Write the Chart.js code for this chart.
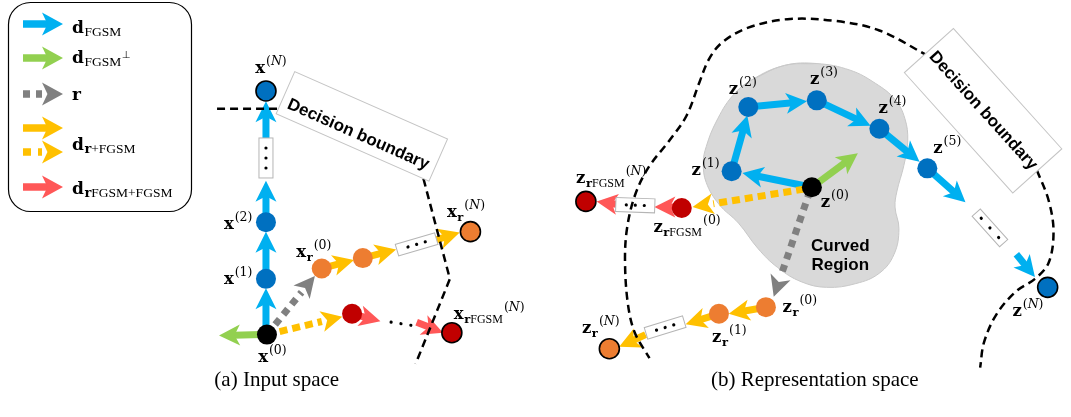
<!DOCTYPE html>
<html>
<head>
<meta charset="utf-8">
<script src="https://cdn.jsdelivr.net/npm/chart.js@4.4.0/dist/chart.umd.min.js"></script>
<style>
  body { margin: 0; background: #fff; }
  #wrap { width: 1071px; height: 417px; }
</style>
</head>
<body>
<div id="wrap"><canvas id="c" width="1071" height="417"></canvas></div>
<script>
// ---- data (diagram space: x 0..1071, y 0..417 downwards) ----
const nodeNames = ['x0','x1','x2','xN','xr0','xr1','xrN','xf0','xfN','z0','z1','z2','z3','z4','z5','zN','zr0','zr1','zrN','zf0','zfN'];
const nodeX = [261, 260, 260, 260, 317, 359, 469, 348, 450, 818, 736, 753, 823, 887, 936, 1059, 771, 723, 611, 685, 587];
const nodeY = [342, 283, 223, 84, 272, 261, 233, 320, 340, 186, 169, 101, 94, 124, 166, 292, 313, 320, 357, 208, 201];
const nodeKind = ['start','step','step','stepEnd','rand','rand','randEnd','rf','rfEnd',
                  'start','step','step','step','step','step','stepEnd','rand','rand','randEnd','rf','rfEnd'];

// arrows: kind + start / tip
const arrowKind = ['fgsm','fgsm','fgsm','fgsm','perp','rand','rfgsmDash','rfgsm','rfgsm','rfgsm','rrfgsm','rrfgsm',
                   'fgsm','fgsm','fgsm','fgsm','fgsm','fgsm','fgsm','perp','rand','rfgsmDash','rrfgsm','rrfgsm','rfgsm','rfgsm','rfgsm'];
const arrowX0 = [260, 260, 260, 260, 255, 261, 261, 317, 359, 433, 348, 414,
                 818, 736, 753, 823, 887, 936, 1027, 818, 816, 810, 685, 618, 771, 723, 648];
const arrowY0 = [335, 276, 216, 135, 342, 342, 342, 272, 261, 242, 320, 329,
                 186, 169, 101, 94, 124, 166, 257, 186, 190, 188, 207, 204, 313, 320, 342];
const arrowX1 = [260, 260, 260, 260, 212, 310, 338, 350, 393, 458, 377, 441,
                 747, 752, 813, 878, 928, 975, 1046, 865, 779, 696, 657, 598, 733, 689, 621];
const arrowY1 = [293, 233, 179, 95, 343, 280, 323, 263, 252, 234, 328, 340,
                 171, 110, 95, 121, 159, 202, 281, 150, 302, 207, 207, 201, 320, 331, 355];

// node labels: base letter, subscript, superscript index, left x, baseline y
const labelBase = ['x','x','x','x','x','x','x', 'z','z','z','z','z','z','z','z','z','z','z','z','z'];
const labelSub  = ['','','','','r','r','rFGSM', '','','','','','','','rFGSM','rFGSM','r','r','r'];
const labelSup  = ['N','2','1','0','0','N','N', '2','3','4','1','0','5','N','N','0','0','1','N'];
const labelX = [249, 217, 217, 252, 291, 445, 452, 733, 816, 886, 695, 827, 942, 1023, 577, 656, 788, 716, 583];
const labelY = [65, 230, 288, 371, 260, 217, 325, 87, 77, 107, 173, 207, 150, 322, 182, 233, 318, 350, 340];

// decision boundaries (dashed)
const boundaryA1X = [210, 273];
const boundaryA1Y = [103, 103];
const boundaryA2X = [421, 448, 413];
const boundaryA2Y = [177, 283, 373];
const boundaryB1X = [937, 887, 843, 793, 753, 727, 713, 703, 690, 672, 651, 637, 629, 627, 630, 637, 652];
const boundaryB1Y = [47, 20, 10, 8, 17, 32, 50, 75, 110, 137, 165, 195, 230, 265, 310, 340, 367];
const boundaryB2X = [1048, 1060, 1065, 1060, 1046, 1027, 1007, 994, 990];
const boundaryB2Y = [168, 200, 233, 266, 283, 296, 320, 350, 377];

// curved region outline (closed)
const regionX = [790, 823, 857, 883, 903, 913, 916, 912, 905, 903, 907, 902, 887, 863, 833, 807, 783, 763, 743, 723, 710, 707, 710, 720, 737, 757];
const regionY = [57, 55, 62, 76, 93, 113, 137, 163, 190, 207, 230, 257, 277, 288, 292, 286, 271, 251, 224, 204, 181, 160, 143, 117, 89, 72];

// legend entries
const legendKinds = ['fgsm', 'perp', 'rand', 'rfgsm', 'rrfgsm'];
const legendBase  = ['d', 'd', 'r', 'd', 'd'];
const legendSub   = ['FGSM', 'FGSM', '', 'r+FGSM', 'rFGSM+FGSM'];

const captions = ['(a) Input space', '(b) Representation space'];

// ---- styles / layout ----
const COLORS = {
  fgsm: '#00B0F0', perp: '#92D050', rand: '#808080', rfgsm: '#FFC000', rfgsmDash: '#FFC000', rrfgsm: '#FF5757',
  start: '#000000', step: '#0070C0', stepEnd: '#0070C0', rand_n: '#ED7D31', randEnd: '#ED7D31', rf: '#C00000', rfEnd: '#C00000'
};
const DASH = { rand: [7, 6], rfgsmDash: [8, 5] };
const nodeFill = k => ({ start: COLORS.start, step: COLORS.step, stepEnd: COLORS.stepEnd, rand: COLORS.rand_n,
                         randEnd: COLORS.randEnd, rf: COLORS.rf, rfEnd: COLORS.rfEnd })[k];
const hasEdge = k => k.endsWith('End');

const decisionBoxes = [
  { cx: 358, cy: 121.5, w: 167, h: 46, ang: 23.8, tdx: 0, tdy: 9 },
  { cx: 993, cy: 105, w: 162, h: 66, ang: 48, tdx: 0, tdy: 0 }
];
const dotBoxes = [
  { cx: 260, cy: 155, w: 40, h: 14, ang: 90, gap: 10, box: true },
  { cx: 414, cy: 246.5, w: 41, h: 12, ang: -16.5, gap: 9, box: true },
  { cx: 398, cy: 330.5, w: 0, h: 0, ang: 9, gap: 10, box: false },
  { cx: 637.5, cy: 205, w: 39, h: 14, ang: 2, gap: 9, box: true },
  { cx: 668, cy: 334.5, w: 40, h: 12, ang: -17, gap: 9, box: true },
  { cx: 1000, cy: 229, w: 41, h: 11, ang: 48, gap: 13, box: true }
];

const pts = (xs, ys) => xs.map((x, i) => ({ x, y: ys[i] }));
const regionPts = pts(regionX, regionY);
const regionData = [regionPts[regionPts.length - 1], ...regionPts, regionPts[0], regionPts[1]];

function lineSet(xs, ys, tension) {
  return {
    type: 'line', data: pts(xs, ys), borderColor: '#000', borderWidth: 2.5, borderDash: [8, 5],
    pointRadius: 0, tension: tension, fill: false, order: 5, clip: false
  };
}

// ---- drawing helpers ----
function drawArrow(ctx, x0, y0, x1, y1, color, dash, o) {
  const shaft = o.shaft, head = o.head, half = o.half;
  const dx = x1 - x0, dy = y1 - y0, len = Math.hypot(dx, dy);
  const ux = dx / len, uy = dy / len, nx = -uy, ny = ux;
  const notch = head * 0.74;
  ctx.save();
  ctx.strokeStyle = color;
  ctx.fillStyle = color;
  ctx.lineWidth = shaft;
  ctx.lineCap = 'butt';
  if (dash) ctx.setLineDash(dash);
  ctx.beginPath();
  ctx.moveTo(x0, y0);
  ctx.lineTo(x1 - ux * (dash ? head : notch - 1), y1 - uy * (dash ? head : notch - 1));
  ctx.stroke();
  ctx.setLineDash([]);
  const bx = x1 - ux * head, by = y1 - uy * head;
  ctx.beginPath();
  ctx.moveTo(x1, y1);
  ctx.lineTo(bx + nx * half, by + ny * half);
  ctx.lineTo(x1 - ux * notch, y1 - uy * notch);
  ctx.lineTo(bx - nx * half, by - ny * half);
  ctx.closePath();
  ctx.fill();
  ctx.restore();
}

function drawRuns(ctx, x, y, runs) {
  for (const [t, f] of runs) {
    ctx.font = f;
    ctx.fillText(t, x, y);
    x += ctx.measureText(t).width;
  }
  return x;
}

function subRuns(sub, size, rest) {
  if (!sub) return [];
  const runs = [];
  if (sub[0] === 'r') runs.push(['r', `bold ${size}px "DejaVu Serif"`]);
  const tail = sub[0] === 'r' ? sub.slice(1) : sub;
  if (tail) runs.push([tail, `${rest}px "Liberation Serif"`]);
  return runs;
}

function drawMathLabel(ctx, x, y, base, sub, sup) {
  let cx = drawRuns(ctx, x, y, [[base, 'bold 16.5px "DejaVu Serif"']]);
  if (sub) cx = drawRuns(ctx, cx + 0.5, y + 4, subRuns(sub, 11.5, 12));
  if (sup) {
    const f = '12.5px "DejaVu Serif"';
    const mid = sup === 'N' ? [['N', 'italic 12.5px "DejaVu Serif"']] : [[sup, f]];
    drawRuns(ctx, cx + 1, y - 8, [['(', f], ...mid, [')', f]]);
  }
}

function drawDots(ctx, cx, cy, b) {
  const a = b.ang * Math.PI / 180;
  ctx.save();
  ctx.translate(cx, cy);
  ctx.rotate(a);
  if (b.box) {
    ctx.fillStyle = '#fff';
    ctx.strokeStyle = '#b5b5b5';
    ctx.lineWidth = 1;
    ctx.fillRect(-b.w / 2, -b.h / 2, b.w, b.h);
    ctx.strokeRect(-b.w / 2, -b.h / 2, b.w, b.h);
  }
  ctx.fillStyle = '#000';
  for (let i = -1; i <= 1; i++) {
    ctx.beginPath();
    ctx.arc(i * b.gap, 0, 1.6, 0, Math.PI * 2);
    ctx.fill();
  }
  ctx.restore();
}

const diagramPlugin = {
  id: 'diagram',
  afterDatasetDraw(chart, args) {
    const ds = chart.data.datasets[args.index];
    const ctx = chart.ctx, sx = chart.scales.x, sy = chart.scales.y;
    if (ds.label === 'region') {
      arrowKind.forEach((k, i) => {
        drawArrow(ctx, sx.getPixelForValue(arrowX0[i]), sy.getPixelForValue(arrowY0[i]),
                  sx.getPixelForValue(arrowX1[i]), sy.getPixelForValue(arrowY1[i]),
                  COLORS[k], DASH[k], { shaft: 7, head: 21, half: 10.5 });
      });
      dotBoxes.forEach(b => drawDots(ctx, sx.getPixelForValue(b.cx), sy.getPixelForValue(b.cy), b));
    }
  },
  beforeDatasetDraw(chart, args) {
    const ds = chart.data.datasets[args.index];
    if (ds.label !== 'nodes') return;
    const ctx = chart.ctx, sx = chart.scales.x, sy = chart.scales.y;
    decisionBoxes.forEach(b => {
      ctx.save();
      ctx.translate(sx.getPixelForValue(b.cx), sy.getPixelForValue(b.cy));
      ctx.rotate(b.ang * Math.PI / 180);
      ctx.fillStyle = '#fff';
      ctx.strokeStyle = '#c4c4c4';
      ctx.lineWidth = 1;
      ctx.fillRect(-b.w / 2, -b.h / 2, b.w, b.h);
      ctx.strokeRect(-b.w / 2, -b.h / 2, b.w, b.h);
      ctx.fillStyle = '#000';
      ctx.font = 'bold 17px "Liberation Sans"';
      ctx.textAlign = 'center';
      ctx.textBaseline = 'middle';
      ctx.fillText('Decision boundary', b.tdx, b.tdy);
      ctx.restore();
    });
  },
  afterDraw(chart) {
    const ctx = chart.ctx, sx = chart.scales.x, sy = chart.scales.y;
    ctx.save();
    ctx.fillStyle = '#000';
    ctx.textAlign = 'left';
    ctx.textBaseline = 'alphabetic';
    labelBase.forEach((b, i) => {
      drawMathLabel(ctx, sx.getPixelForValue(labelX[i]), sy.getPixelForValue(labelY[i]), b, labelSub[i], labelSup[i]);
    });

    // region caption
    ctx.font = 'bold 17px "Liberation Sans"';
    ctx.textAlign = 'center';
    ctx.fillText('Curved', sx.getPixelForValue(847), sy.getPixelForValue(253));
    ctx.fillText('Region', sx.getPixelForValue(847), sy.getPixelForValue(274));

    // panel captions
    ctx.font = '21px "Liberation Serif"';
    ctx.fillText(captions[0], sx.getPixelForValue(271), sy.getPixelForValue(396));
    ctx.fillText(captions[1], sx.getPixelForValue(821), sy.getPixelForValue(396));

    // legend
    ctx.strokeStyle = '#000';
    ctx.lineWidth = 1.2;
    ctx.beginPath();
    ctx.roundRect(8.5, 2.5, 183, 209, 22);
    ctx.stroke();
    const rows = [24, 58, 94, 128, 187];
    const textY = [33, 63, 100, 150, 194];
    legendKinds.forEach((k, i) => {
      drawArrow(ctx, 23, rows[i], 63, rows[i], COLORS[k], DASH[k], { shaft: 7.5, head: 21, half: 11.5 });
      if (k === 'rfgsm') drawArrow(ctx, 23, 152, 63, 152, COLORS.rfgsm, [8, 7], { shaft: 7.5, head: 21, half: 11.5 });
      ctx.fillStyle = '#000';
      ctx.textAlign = 'left';
      let x = drawRuns(ctx, 72, textY[i], [[legendBase[i], 'bold 17px "DejaVu Serif"']]);
      x = drawRuns(ctx, x + 0.5, textY[i] + 3, subRuns(legendSub[i], 13, 13.5));
      if (k === 'perp') drawRuns(ctx, x + 0.5, textY[i] - 5, [['\u22A5', '10px "DejaVu Sans"']]);
    });
    ctx.restore();
  }
};

new Chart(document.getElementById('c'), {
  type: 'line',
  data: {
    datasets: [
      {
        label: 'region', type: 'line', data: regionData, borderColor: '#c8c8c8', borderWidth: 1,
        backgroundColor: '#d9d9d9', fill: 'shape', tension: 0.4, pointRadius: 0, order: 10, clip: false
      },
      lineSet(boundaryA1X, boundaryA1Y, 0),
      lineSet(boundaryA2X, boundaryA2Y, 0),
      lineSet(boundaryB1X, boundaryB1Y, 0.35),
      lineSet(boundaryB2X, boundaryB2Y, 0.35),
      {
        label: 'nodes', type: 'scatter', data: pts(nodeX, nodeY), order: 0, clip: false,
        pointRadius: 10,
        pointBackgroundColor: nodeKind.map(nodeFill),
        pointBorderColor: nodeKind.map(k => hasEdge(k) ? '#000' : nodeFill(k)),
        pointBorderWidth: nodeKind.map(k => hasEdge(k) ? 1.6 : 0)
      }
    ]
  },
  options: {
    responsive: false,
    animation: false,
    events: [],
    layout: { padding: 0 },
    plugins: { legend: { display: false }, tooltip: { enabled: false }, title: { display: false } },
    scales: {
      x: { type: 'linear', min: 0, max: 1071, display: false },
      y: { type: 'linear', min: 0, max: 417, reverse: true, display: false }
    }
  },
  plugins: [diagramPlugin]
});
</script>
</body>
</html>
